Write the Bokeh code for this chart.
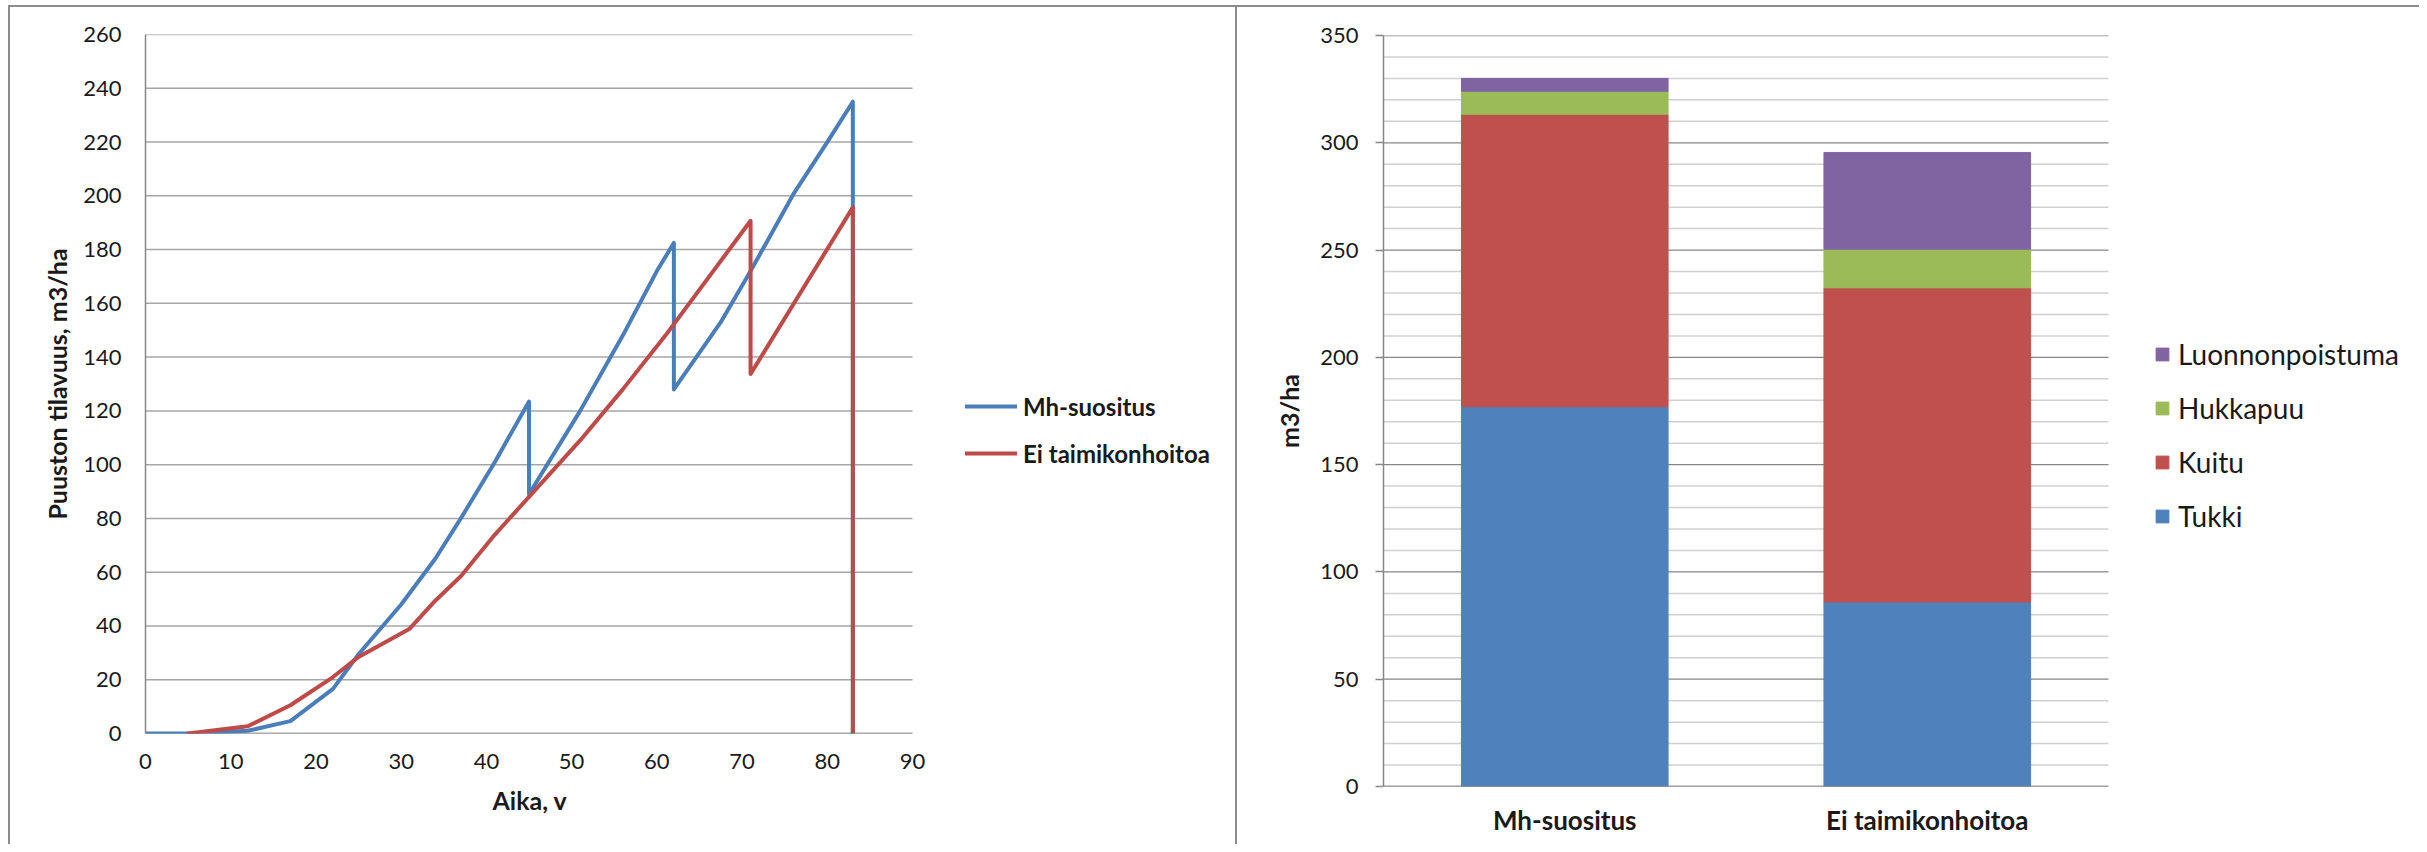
from bokeh.plotting import figure
from bokeh.models import (Range1d, FixedTicker, Legend, LegendItem, ColumnDataSource, Title)
from bokeh.layouts import row, column
from bokeh.embed import file_html
from bokeh.resources import INLINE

# ---------------- data: left line chart ----------------
mh_age = [0, 5, 12, 17, 22, 25, 30, 34, 37, 41, 45, 45, 51, 56, 60, 62, 62, 67.5, 71, 76, 80, 83, 83]
mh_vol = [0, 0, 1, 4.6, 16.6, 29.5, 48, 65, 80, 101, 123.5, 89, 120, 148, 172, 182.5, 128, 153, 172, 200.5, 220, 235, 0]
ei_age = [5, 12, 17, 22, 25, 31, 34, 37, 41, 45, 51, 56, 61, 71, 71, 83, 83]
ei_vol = [0, 2.7, 10.5, 21, 28.5, 39, 49.4, 58.5, 74, 88, 109, 128, 148, 190.7, 133.7, 195.7, 0]
x_ticks = [0, 10, 20, 30, 40, 50, 60, 70, 80, 90]
y_ticks_left = [0, 20, 40, 60, 80, 100, 120, 140, 160, 180, 200, 220, 240, 260]

# ---------------- data: right stacked bar chart ----------------
categories = ["Mh-suositus", "Ei taimikonhoitoa"]
tukki = [177, 86]
kuitu = [136.3, 146.4]
hukkapuu = [10.7, 18]
luonnonpoistuma = [6, 45.1]
series = ["Tukki", "Kuitu", "Hukkapuu", "Luonnonpoistuma"]
bar_colors = ["#4f81bd", "#c0504d", "#9bbb59", "#8064a2"]
y_major_right = [0, 50, 100, 150, 200, 250, 300, 350]
y_minor_right = [v for v in range(0, 351, 10) if v % 50]

FONT = "Lato"
TXT = "#1a1a1a"
AX = "#868686"
BORDER = "#8c8c8c"

# ---------------- left figure ----------------
# plot area (0..90) is 767 px wide; frame extends further right to hold the legend
X_MAX = 90.0
x_end = X_MAX * 1092 / 767
p1 = figure(frame_width=1092, frame_height=699, output_backend="svg", toolbar_location=None,
            x_range=Range1d(0, x_end), y_range=Range1d(0, 260),
            min_border_left=137, min_border_right=0, min_border_top=29, min_border_bottom=111)
p1.border_fill_color = None
p1.background_fill_color = None
p1.outline_line_color = None
p1.styles = {"box-shadow": f"inset 2px 2px 0 0 {BORDER}, inset -2px 0 0 0 {BORDER}"}
p1.xgrid.grid_line_color = None
p1.ygrid.grid_line_color = None

# gridlines and x-axis line limited to the 0..90 plot area
p1.segment(x0=[0] * len(y_ticks_left), x1=[X_MAX] * len(y_ticks_left),
           y0=y_ticks_left, y1=y_ticks_left, line_color="#a6a6a6", line_width=1.5)
p1.segment(x0=[0], x1=[X_MAX], y0=[0], y1=[0], line_color=AX, line_width=1.5)

r_mh = p1.line(mh_age, mh_vol, line_color="#4a7ebb", line_width=4, line_join="round", line_cap="round")
r_ei = p1.line(ei_age, ei_vol, line_color="#be4b48", line_width=4, line_join="round", line_cap="round")

p1.xaxis.ticker = FixedTicker(ticks=x_ticks)
p1.yaxis.ticker = FixedTicker(ticks=y_ticks_left)
for ax in (p1.xaxis[0], p1.yaxis[0]):
    ax.axis_line_color = AX
    ax.axis_line_width = 1.5
    ax.major_tick_line_color = None
    ax.minor_tick_line_color = None
    ax.major_tick_out = 0
    ax.major_tick_in = 0
    ax.minor_tick_out = 0
    ax.minor_tick_in = 0
    ax.major_label_text_font = FONT
    ax.major_label_text_font_size = "22px"
    ax.major_label_text_color = TXT
    ax.axis_label_text_font = FONT
    ax.axis_label_text_font_size = "25px"
    ax.axis_label_text_font_style = "bold"
    ax.axis_label_text_color = TXT
p1.xaxis.axis_line_color = None
p1.yaxis.axis_label = "Puuston tilavuus, m3/ha"
p1.xaxis.major_label_standoff = 20
p1.yaxis.major_label_standoff = 24
p1.yaxis.axis_label_standoff = 8

# x-axis title centred under the 0..90 plot area
xt = Title(text="Aika, v", align="left", offset=347, standoff=22,
           text_font=FONT, text_font_size="25px", text_font_style="bold", text_color=TXT)
p1.add_layout(xt, "below")


def one_item_legend(label, renderer, loc):
    lg = Legend(items=[LegendItem(label=label, renderers=[renderer])], location=loc)
    lg.border_line_color = None
    lg.background_fill_alpha = 0
    lg.padding = 0
    lg.margin = 0
    lg.spacing = 0
    lg.glyph_width = 52
    lg.glyph_height = 36
    lg.label_height = 36
    lg.label_standoff = 6
    lg.label_text_font = FONT
    lg.label_text_font_size = "24px"
    lg.label_text_font_style = "bold"
    lg.label_text_color = TXT
    return lg


p1.add_layout(one_item_legend("Mh-suositus", r_mh, (820, 309)))
p1.add_layout(one_item_legend("Ei taimikonhoitoa", r_ei, (820, 262)))

# ---------------- right figure ----------------
N_CAT = len(categories)
cat_x = [i + 0.5 for i in range(N_CAT)]
xr_end = N_CAT * 1036 / 725
src = ColumnDataSource(dict(x=cat_x, Tukki=tukki, Kuitu=kuitu,
                            Hukkapuu=hukkapuu, Luonnonpoistuma=luonnonpoistuma))
p2 = figure(frame_width=1036, frame_height=751, output_backend="svg", toolbar_location=None,
            x_range=Range1d(0, xr_end), y_range=Range1d(0, 350),
            min_border_left=146, min_border_right=0, min_border_top=30, min_border_bottom=58)
p2.border_fill_color = None
p2.background_fill_color = None
p2.outline_line_color = None
p2.styles = {"box-shadow": f"inset 0 2px 0 0 {BORDER}"}
p2.xgrid.grid_line_color = None
p2.ygrid.grid_line_color = None

p2.segment(x0=[0] * len(y_minor_right), x1=[N_CAT] * len(y_minor_right),
           y0=y_minor_right, y1=y_minor_right, line_color="#d0d0d0", line_width=1.5)
p2.segment(x0=[0] * len(y_major_right), x1=[N_CAT] * len(y_major_right),
           y0=y_major_right, y1=y_major_right, line_color="#868686", line_width=1.3)

rs = p2.vbar_stack(series, x="x", width=0.57, source=src,
                   fill_color=bar_colors, line_color=bar_colors, line_width=1)

p2.segment(x0=[0], x1=[N_CAT], y0=[0], y1=[0], line_color=AX, line_width=1.5)

p2.yaxis.ticker = FixedTicker(ticks=y_major_right)
p2.xaxis.ticker = FixedTicker(ticks=cat_x)
p2.xaxis.major_label_overrides = {x: c for x, c in zip(cat_x, categories)}
for ax in (p2.xaxis[0], p2.yaxis[0]):
    ax.axis_line_color = AX
    ax.axis_line_width = 1.5
    ax.major_tick_line_color = AX
    ax.major_tick_line_width = 1.5
    ax.minor_tick_line_color = None
    ax.minor_tick_out = 0
    ax.minor_tick_in = 0
    ax.major_tick_in = 0
    ax.major_label_text_font = FONT
    ax.major_label_text_font_size = "22px"
    ax.major_label_text_color = TXT
    ax.axis_label_text_font = FONT
    ax.axis_label_text_font_size = "25px"
    ax.axis_label_text_font_style = "bold"
    ax.axis_label_text_color = TXT
p2.yaxis.major_tick_out = 8
p2.yaxis.major_label_standoff = 17
p2.yaxis.axis_label = "m3/ha"
p2.yaxis.axis_label_standoff = 13
p2.xaxis.axis_line_color = None
p2.xaxis.major_tick_out = 0
p2.xaxis.major_tick_line_color = None
p2.xaxis.major_label_standoff = 17
p2.xaxis.major_label_text_font_size = "26px"
p2.xaxis.major_label_text_font_style = "bold"

leg2 = Legend(items=[LegendItem(label=s, renderers=[r]) for s, r in reversed(list(zip(series, rs)))],
              location=(771, 250), orientation="vertical")
leg2.border_line_color = None
leg2.background_fill_alpha = 0
leg2.padding = 0
leg2.margin = 0
leg2.spacing = 14
leg2.glyph_width = 16
leg2.glyph_height = 16
leg2.label_height = 40
leg2.label_standoff = 8
leg2.label_text_font = FONT
leg2.label_text_font_size = "28px"
leg2.label_text_color = TXT
p2.add_layout(leg2)

layout = row(column(p1), column(p2), margin=(5, 0, 0, 8))
open("out.html", "w").write(file_html(layout, INLINE))
